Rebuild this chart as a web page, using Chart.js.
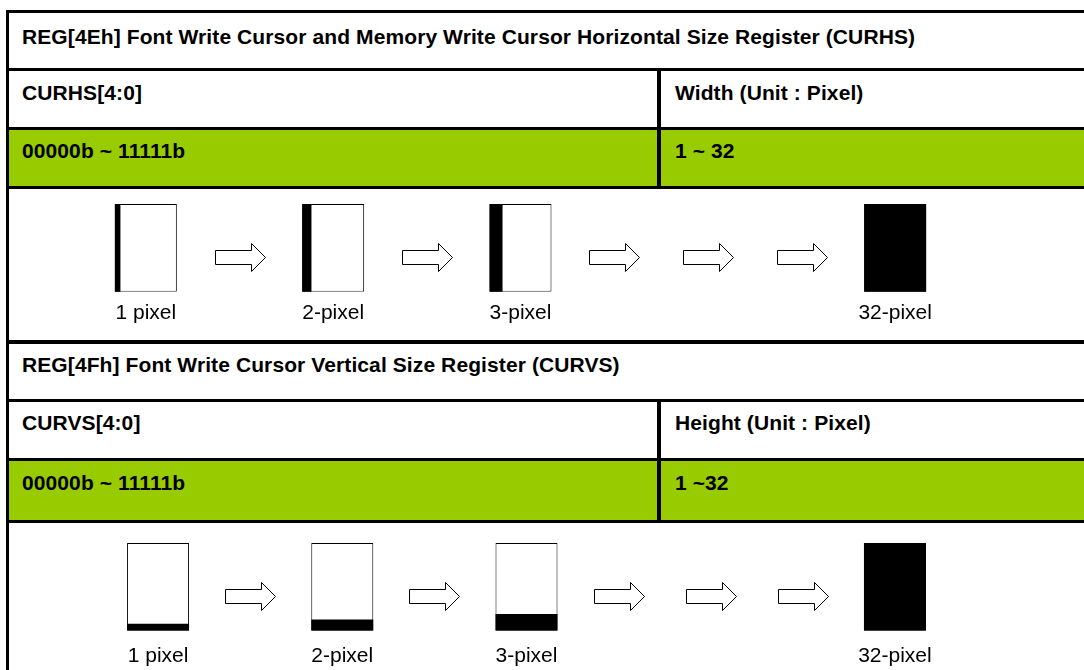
<!DOCTYPE html>
<html>
<head>
<meta charset="utf-8">
<script src="https://cdn.jsdelivr.net/npm/chart.js@4.4.1/dist/chart.umd.min.js"></script>
<style>
  html, body { margin: 0; padding: 0; background: #fff; overflow: hidden; }
  #sheet { position: relative; width: 1084px; height: 670px; overflow: hidden; font-family: "Liberation Sans", Arial, sans-serif; color: #000; }
  .hl { position: absolute; left: 6px; width: 1090px; height: 3px; background: #000; }
  .vl { position: absolute; width: 4px; background: #000; }
  .green { position: absolute; left: 9px; width: 1080px; background: #99cc00; }
  .txt { position: absolute; font-size: 21px; line-height: 20px; letter-spacing: 0.1px; font-weight: bold; white-space: nowrap; }
  canvas { position: absolute; left: 9px; }
</style>
</head>
<body>
<div id="sheet">
  <div class="green" style="top:130px;height:56px"></div>
  <div class="green" style="top:461px;height:59px"></div>

  <div class="hl" style="top:10px"></div>
  <div class="hl" style="top:68px"></div>
  <div class="hl" style="top:127px"></div>
  <div class="hl" style="top:186px"></div>
  <div class="hl" style="top:340px;height:4px"></div>
  <div class="hl" style="top:399px"></div>
  <div class="hl" style="top:458px"></div>
  <div class="hl" style="top:520px"></div>
  <div class="vl" style="left:6px;top:10px;width:3px;height:670px"></div>
  <div class="vl" style="left:657px;top:68px;height:121px"></div>
  <div class="vl" style="left:657px;top:399px;height:124px"></div>

  <div class="txt" style="left:22px;top:27px">REG[4Eh] Font Write Cursor and Memory Write Cursor Horizontal Size Register (CURHS)</div>
  <div class="txt" style="left:22px;top:83px">CURHS[4:0]</div>
  <div class="txt" style="left:675px;top:83px">Width (Unit : Pixel)</div>
  <div class="txt" style="left:22px;top:141px">00000b ~ 11111b</div>
  <div class="txt" style="left:675px;top:141px">1 ~ 32</div>

  <div class="txt" style="left:22px;top:355px">REG[4Fh] Font Write Cursor Vertical Size Register (CURVS)</div>
  <div class="txt" style="left:22px;top:413px">CURVS[4:0]</div>
  <div class="txt" style="left:675px;top:413px">Height (Unit : Pixel)</div>
  <div class="txt" style="left:22px;top:473px">00000b ~ 11111b</div>
  <div class="txt" style="left:675px;top:473px">1 ~32</div>

  <canvas id="curhsChart" width="1075" height="151" style="top:189px"></canvas>
  <canvas id="curvsChart" width="1075" height="159" style="top:523px"></canvas>
</div>
<script>
// DATA
const cursorLabels = ['1 pixel', '2-pixel', '3-pixel', '32-pixel'];
const cursorSizes = [1, 2, 3, 32];
const widthShare = [0.09, 0.15, 0.21, 1];   // filled part of the box, horizontal cursor
const heightShare = [0.08, 0.13, 0.19, 1];  // filled part of the box, vertical cursor
const arrowsBetween = [1, 1, 3];

// box, arrow, box ... sequence
const steps = [];
cursorLabels.forEach((lab, i) => {
  if (i > 0) for (let k = 0; k < arrowsBetween[i - 1]; k++) steps.push({ kind: 'arrow', label: '' });
  steps.push({ kind: 'box', label: lab, n: i });
});

const arrowPlugin = {
  id: 'arrows',
  afterDatasetsDraw(chart) {
    const { ctx, scales: { x, y } } = chart;
    ctx.save();
    ctx.lineWidth = 1;
    ctx.strokeStyle = '#000';
    ctx.fillStyle = '#fff';
    steps.forEach((s, j) => {
      if (s.kind !== 'arrow') return;
      const cx = Math.round(x.getPixelForValue(j)) + 0.5;
      const cy = Math.round(y.getPixelForValue(0.4)) + 0.5;
      const hx = cx + 11;
      ctx.beginPath();
      ctx.moveTo(cx - 25, cy - 7);
      ctx.lineTo(hx, cy - 7);
      ctx.lineTo(hx, cy - 14);
      ctx.lineTo(cx + 25, cy);
      ctx.lineTo(hx, cy + 14);
      ctx.lineTo(hx, cy + 7);
      ctx.lineTo(cx - 25, cy + 7);
      ctx.closePath();
      ctx.fill();
      ctx.stroke();
    });
    ctx.restore();
  }
};

// left strip of the horizontal-size boxes
const widthFillPlugin = {
  id: 'widthFill',
  afterDatasetsDraw(chart, args, opts) {
    if (!opts.share) return;
    const meta = chart.getDatasetMeta(0);
    const ctx = chart.ctx;
    ctx.save();
    ctx.fillStyle = '#000';
    meta.data.forEach((el, j) => {
      const s = steps[j];
      if (s.kind !== 'box') return;
      const { x, y, base, width } = el.getProps(['x', 'y', 'base', 'width'], true);
      ctx.fillRect(x - width / 2, y, width * opts.share[s.n], base - y);
    });
    ctx.restore();
  }
};

function makeChart(id, fillShare, vertical, pad) {
  const datasets = [];
  if (vertical) {
    datasets.push({
      label: 'fill',
      data: steps.map(s => s.kind === 'box' ? [0, fillShare[s.n]] : null),
      backgroundColor: '#000',
      borderWidth: 0
    });
  }
  datasets.push({
    label: 'cursor',
    data: steps.map(s => s.kind === 'box' ? [0, 1] : null),
    backgroundColor: '#fff',
    borderColor: '#000',
    borderWidth: 1,
    borderSkipped: false
  });
  datasets.forEach(d => { d.barThickness = 62; d.grouped = false; d.inflateAmount = 0; });

  return new Chart(document.getElementById(id), {
    type: 'bar',
    data: { labels: steps.map(s => s.label), datasets },
    options: {
      responsive: false,
      animation: false,
      events: [],
      layout: { padding: pad },
      scales: {
        x: {
          grid: { display: false, drawTicks: false },
          border: { display: false },
          ticks: {
            color: '#000',
            font: { family: '"Liberation Sans", Arial, sans-serif', size: 21 },
            padding: pad.tick,
            autoSkip: false,
            maxRotation: 0
          }
        },
        y: { display: false, min: 0, max: 1 }
      },
      plugins: {
        legend: { display: false },
        tooltip: { enabled: false },
        widthFill: { share: vertical ? null : fillShare }
      }
    },
    plugins: [widthFillPlugin, arrowPlugin]
  });
}

makeChart('curhsChart', widthShare, false, { top: 15, left: 90, right: 142, bottom: 5, tick: 9 });
makeChart('curvsChart', heightShare, true, { top: 20, left: 103, right: 143, bottom: 0, tick: 13 });
</script>
</body>
</html>
